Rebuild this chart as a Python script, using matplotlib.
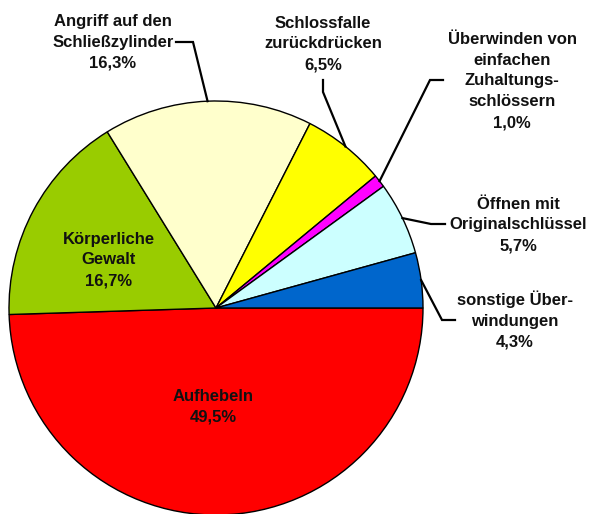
import numpy as np
import matplotlib.pyplot as plt

plt.rcParams['font.family'] = ['Liberation Sans', 'DejaVu Sans']

labels = ["Aufhebeln", "Körperliche\nGewalt", "Angriff auf den\nSchließzylinder",
          "Schlossfalle\nzurückdrücken", "Überwinden von\neinfachen\nZuhaltungs-\nschlössern",
          "Öffnen mit\nOriginalschlüssel", "sonstige Über-\nwindungen"]
shares = [49.5, 16.7, 16.3, 6.5, 1.0, 5.7, 4.3]
colors = ["#FF0000", "#99CC00", "#FFFFCC", "#FFFF00", "#FF00FF", "#CCFFFF", "#0066CC"]

# layout in pixel coordinates (y grows downwards)
cx, cy, r = 216, 308, 207
text_pos = [(213, 407), (109, 260), (113, 42), (323, 44), (512, 81), (518, 225), (515, 320)]
# elbow points of the leader lines (None = label sits inside the slice)
leaders = [None, None,
           [(176, 42), (193, 42)],
           [(323, 80), (323, 92)],
           [(443, 80), (430, 80)],
           [(445, 224), (431, 224)],
           [(455, 320), (442, 320)]]

fig = plt.figure(figsize=(5.92, 5.14), dpi=100)
ax = fig.add_axes([0, 0, 1, 1])

# y axis is inverted, so counterclock=True runs clockwise on screen
wedges, _ = ax.pie(shares, colors=colors, startangle=0, counterclock=True,
                   center=(cx, cy), radius=r,
                   wedgeprops=dict(edgecolor="black", linewidth=1.0))

ax.set_xlim(0, 592)
ax.set_ylim(514, 0)
ax.set_aspect("equal")
ax.axis("off")

for w, lab, val, (tx, ty), lead in zip(wedges, labels, shares, text_pos, leaders):
    txt = lab + "\n" + f"{val:.1f}".replace(".", ",") + "%"
    ax.text(tx, ty, txt, ha="center", va="center", fontsize=12,
            fontweight="bold", color="#111111", linespacing=1.48)
    if lead is not None:
        mid = np.deg2rad((w.theta1 + w.theta2) / 2)
        ex, ey = cx + r * np.cos(mid), cy + r * np.sin(mid)
        xs = [p[0] for p in lead] + [ex]
        ys = [p[1] for p in lead] + [ey]
        ax.plot(xs, ys, color="black", linewidth=1.6, solid_joinstyle="miter")

fig.savefig("out.png", dpi=100)
